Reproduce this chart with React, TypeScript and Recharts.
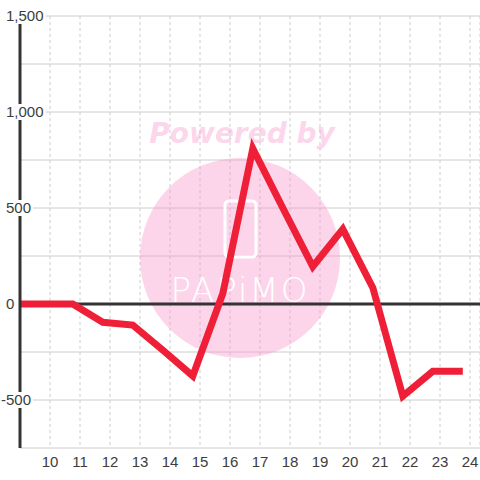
import React from 'react';
import {
    LineChart, Line, XAxis, YAxis, CartesianGrid, ReferenceLine, Customized,
} from 'recharts';

// hour of day (decimal) and value
const hours = [9, 10.76, 11.76, 12.76, 13.76, 14.76, 15.76, 16.76, 17.76, 18.76, 19.76, 20.76, 21.76, 22.76, 23.76];
const values = [0, 0, -95, -110, -240, -375, 55, 810, 500, 195, 390, 85, -480, -350, -350];

const xTicks = [10, 11, 12, 13, 14, 15, 16, 17, 18, 19, 20, 21, 22, 23, 24];
const yTicks = [-750, -500, -250, 0, 250, 500, 750, 1000, 1250, 1500];
const yLabelled = [-500, 0, 500, 1000, 1500];

const LINE_COLOR = '#ee1f37';
const AXIS_COLOR = '#333333';
const GRID_COLOR = '#cccccc';
const TEXT_COLOR = '#3d3d3d';
const FONT = '"Liberation Sans", Arial, sans-serif';

const data = hours.map((h, i) => ({ hour: h, value: values[i] }));

// rough Arial widths at 15px
const textWidth = (s: string) =>
    s.split('').reduce((w, c) => w + (c === ',' ? 4.2 : c === '-' ? 5 : 8.34), 0);

const YTick = (props: any) => {
    const { x, y, payload } = props;
    const v = payload.value as number;
    if (!yLabelled.includes(v)) return null;
    const label = v.toLocaleString('en-US');
    const neg = v < 0;
    const left = x - 6 - (neg ? 5 : 0);
    const w = textWidth(label);
    return (
        <g>
            <rect x={left - 1} y={y - 8} width={w + 3} height={16} fill="#ffffff" />
            <text x={left} y={y} dy="0.35em" textAnchor="start" fontSize={15}
                fontFamily={FONT} fill={TEXT_COLOR}>
                {label}
            </text>
        </g>
    );
};

// faint "Powered by" badge behind the series
const Watermark = () => (
    <g>
        <circle cx={240} cy={258} r={100} fill="#f896ce" fillOpacity={0.4} />
        <text x={242} y={143} textAnchor="middle" fontSize={28} fontWeight="bold"
            fontStyle="italic" fontFamily='"DejaVu Sans", sans-serif' fill="#f896ce" fillOpacity={0.4}>
            Powered by
        </text>
        <rect x={225} y={201} width={31} height={56} rx={4} fill="none" stroke="#ffffff" strokeWidth={3} />
        <text x={240} y={302} textAnchor="middle" fontSize={34} fontFamily='"DejaVu Sans", sans-serif'
            fontWeight={300} letterSpacing={2} fill="#ffffff">
            PAPiMO
        </text>
    </g>
);

export default function App() {
    return (
        <div style={{ position: 'absolute', left: 0, top: 0, width: 480, height: 480, background: '#ffffff' }}>
            <LineChart width={480} height={480} data={data}
                margin={{ top: 16, right: 0, bottom: 0, left: 0 }}>
                <CartesianGrid vertical={false} stroke={GRID_COLOR} />
                <CartesianGrid horizontal={false} stroke={GRID_COLOR} strokeDasharray="3 3" />
                <Customized component={Watermark} />
                <XAxis dataKey="hour" type="number" domain={[9, 24.333]} ticks={xTicks}
                    allowDataOverflow axisLine={false} tickLine={false} height={32}
                    tick={{ fontSize: 15, fill: TEXT_COLOR, fontFamily: FONT }} />
                <YAxis type="number" domain={[-750, 1500]} ticks={yTicks} allowDataOverflow
                    width={20} tickLine={false} interval={0}
                    axisLine={{ stroke: AXIS_COLOR, strokeWidth: 3 }} tick={<YTick />} />
                <ReferenceLine y={0} stroke={AXIS_COLOR} strokeWidth={3} />
                <Line type="linear" dataKey="value" stroke={LINE_COLOR} strokeWidth={7}
                    dot={false} activeDot={false} isAnimationActive={false} />
            </LineChart>
        </div>
    );
}
